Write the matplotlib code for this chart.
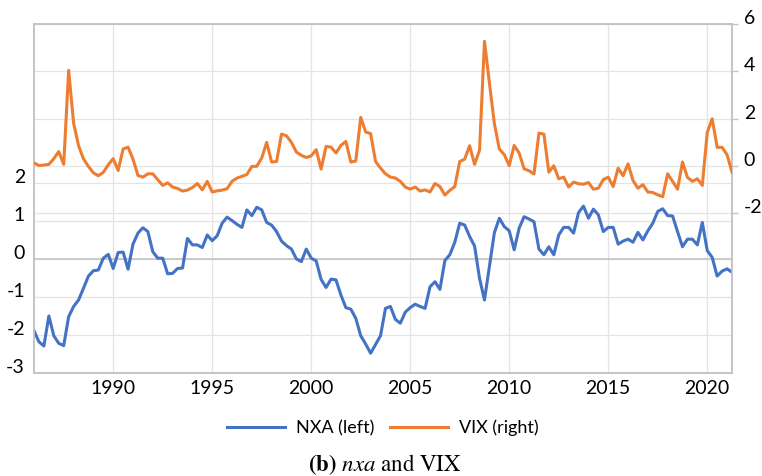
import matplotlib
matplotlib.use("Agg")
import matplotlib.pyplot as plt
import matplotlib.transforms as mtrans
import numpy as np

plt.rcParams["axes.unicode_minus"] = False
plt.rcParams["mathtext.fontset"] = "stix"

# ---- data (quarterly, 1986Q1 .. 2021Q2) ----
start_year = 1986
nxa = [-1.89, -2.18, -2.29, -1.5, -2.02, -2.22, -2.28, -1.52, -1.25, -1.08,
       -0.77, -0.45, -0.31, -0.29, 0.02, 0.12, -0.25, 0.17, 0.18, -0.27,
       0.39, 0.68, 0.82, 0.72, 0.19, 0.02, 0.02, -0.39, -0.38, -0.25,
       -0.24, 0.54, 0.37, 0.37, 0.3, 0.63, 0.48, 0.61, 0.94, 1.1,
       1.01, 0.91, 0.83, 1.29, 1.14, 1.36, 1.29, 0.96, 0.89, 0.72,
       0.47, 0.35, 0.26, 0.0, -0.07, 0.26, 0.02, -0.05, -0.54, -0.75,
       -0.53, -0.55, -0.95, -1.28, -1.32, -1.56, -2.02, -2.24, -2.48, -2.25,
       -2.02, -1.3, -1.25, -1.59, -1.69, -1.4, -1.28, -1.19, -1.25, -1.3,
       -0.73, -0.6, -0.8, -0.04, 0.11, 0.44, 0.94, 0.89, 0.59, 0.34,
       -0.51, -1.08, -0.2, 0.69, 1.07, 0.85, 0.74, 0.24, 0.81, 1.11,
       1.05, 0.98, 0.26, 0.11, 0.32, 0.11, 0.63, 0.83, 0.83, 0.68,
       1.22, 1.39, 1.07, 1.31, 1.16, 0.72, 0.83, 0.83, 0.39, 0.47,
       0.52, 0.44, 0.7, 0.5, 0.74, 0.94, 1.25, 1.32, 1.14, 1.13,
       0.72, 0.32, 0.52, 0.52, 0.37, 0.96, 0.22, 0.04, -0.45, -0.32,
       -0.26, -0.35]
vix = [0.12, 0.01, 0.03, 0.06, 0.3, 0.6, 0.06, 4.04, 1.81, 0.85,
       0.29, -0.03, -0.3, -0.42, -0.28, 0.04, 0.3, -0.2, 0.71, 0.79,
       0.28, -0.41, -0.48, -0.34, -0.34, -0.59, -0.83, -0.72, -0.9, -0.96,
       -1.07, -1.03, -0.92, -0.75, -1.02, -0.66, -1.11, -1.06, -1.03, -0.97,
       -0.66, -0.52, -0.45, -0.37, -0.03, -0.02, 0.33, 0.99, 0.16, 0.18,
       1.34, 1.27, 0.99, 0.58, 0.44, 0.35, 0.42, 0.68, -0.14, 0.82,
       0.79, 0.54, 0.86, 1.03, 0.16, 0.2, 2.05, 1.43, 1.36, 0.18,
       -0.1, -0.34, -0.48, -0.52, -0.66, -0.9, -0.99, -0.9, -1.07, -1.02,
       -1.11, -0.75, -0.88, -1.24, -1.04, -0.88, 0.18, 0.28, 0.85, 0.06,
       0.66, 5.27, 3.5, 1.78, 0.71, 0.47, 0.01, 0.86, 0.54, -0.13,
       -0.21, -0.35, 1.38, 1.34, -0.27, 0.0, -0.55, -0.48, -0.9, -0.69,
       -0.76, -0.78, -0.71, -0.99, -0.95, -0.59, -0.48, -0.88, -0.1, -0.42,
       0.08, -0.62, -0.95, -0.8, -1.11, -1.13, -1.23, -1.31, -0.34, -0.66,
       -0.99, 0.16, -0.49, -0.66, -0.55, -0.83, 1.41, 1.99, 0.78, 0.78,
       0.47, -0.27]
left_ticks = [2, 1, 0, -1, -2, -3]
right_ticks = [6, 4, 2, 0, -2]
year_ticks = [1990, 1995, 2000, 2005, 2010, 2015, 2020]
labels = ["NXA (left)", "VIX (right)"]

t = start_year + np.arange(len(nxa)) / 4.0

BLUE = "#4472C4"
ORANGE = "#ED7D31"
GRID = "#e4e4e4"
SPINE = "#c4c4c4"
FONT = "Lato"

fig = plt.figure(figsize=(7.62, 4.76), dpi=100)
ax = fig.add_axes([34/762, 1-373/476, (732-34)/762, (373-24)/476])
ax2 = ax.twinx()

ax.set_xlim(start_year, start_year + (len(nxa) - 1) / 4.0)
ax.set_ylim(-3, 6.18)
ax2.set_ylim(-8.77, 6)

ax.set_xticks(year_ticks)
ax.set_yticks(left_ticks)
ax2.set_yticks(right_ticks)

# grids
ax.grid(True, axis="both", color=GRID, lw=0.9, zorder=0)
ax.set_axisbelow(True)
btr = mtrans.blended_transform_factory(ax.transAxes, ax2.transData)
for v in right_ticks:
    ax.plot([0, 1], [v, v], transform=btr, color=GRID, lw=0.9, zorder=0.5)
ax.axhline(0, color="#c0c0c0", lw=1.1, zorder=0.8)

l1, = ax.plot(t, nxa, color=BLUE, lw=2.2, zorder=3, solid_joinstyle="round")
l2, = ax2.plot(t, vix, color=ORANGE, lw=2.2, zorder=3, solid_joinstyle="round")

for a in (ax, ax2):
    for s in a.spines.values():
        s.set_color(SPINE)
        s.set_linewidth(1.2)

ax.tick_params(axis="y", length=0, pad=6.5, labelsize=14, labelfontfamily=FONT)
ax.tick_params(axis="x", length=0, pad=5, labelsize=14, labelfontfamily=FONT)
ax2.tick_params(axis="y", length=4.5, width=1.0, color=SPINE, pad=4,
                labelsize=14, labelfontfamily=FONT)
for lab in ax.get_yticklabels() + ax2.get_yticklabels():
    lab.set_verticalalignment("baseline")

fig.legend([l1, l2], labels, loc="center", ncol=2,
           bbox_to_anchor=(383/762, 1-428/476), frameon=False,
           handlelength=3.2, handletextpad=0.6, columnspacing=0.9,
           prop={"family": FONT, "size": 13})

fig.text(385/762, 1-465/476, r"$\mathbf{(b)}$ $\mathit{nxa}$ and VIX",
         ha="center", va="center", fontsize=16.5, family="STIXGeneral")

fig.savefig("out.png", dpi=100)
